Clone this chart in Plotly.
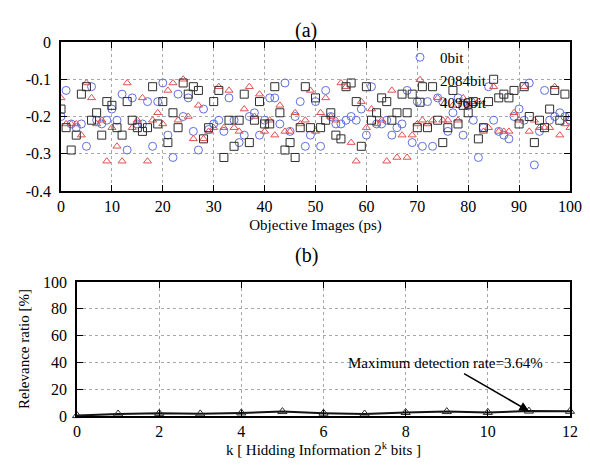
import plotly.graph_objects as go

# ---------------- data: panel (a) ----------------
image_index = list(range(0, 101))

bit0 = [-0.20, -0.13, -0.22, -0.23, -0.22, -0.28, -0.12, -0.21, -0.22, -0.21,
        -0.18, -0.21, -0.14, -0.29, -0.15, -0.22, -0.22, -0.16, -0.28, -0.16,
        -0.11, -0.25, -0.31, -0.14, -0.20, -0.15, -0.24, -0.29, -0.18, -0.235,
        -0.22, -0.21, -0.24, -0.15, -0.21, -0.27, -0.25, -0.20, -0.19, -0.25,
        -0.21, -0.15, -0.15, -0.22, -0.11, -0.24, -0.20, -0.16, -0.28, -0.25,
        -0.16, -0.28, -0.13, -0.20, -0.22, -0.22, -0.21, -0.20, -0.21, -0.18,
        -0.25, -0.12, -0.22, -0.22, -0.21, -0.25, -0.23, -0.22, -0.13, -0.27,
        -0.16, -0.28, -0.16, -0.28, -0.15, -0.16, -0.24, -0.19, -0.15, -0.25,
        -0.17, -0.21, -0.31, -0.23, -0.12, -0.21, -0.24, -0.25, -0.26, -0.20,
        -0.18, -0.21, -0.11, -0.33, -0.24, -0.13, -0.21, -0.20, -0.19, -0.20,
        -0.21]

bit2084 = [-0.15, -0.22, -0.22, -0.22, -0.25, -0.11, -0.15, -0.22, -0.21, -0.32,
           -0.23, -0.28, -0.32, -0.11, -0.23, -0.21, -0.15, -0.32, -0.21, -0.19,
           -0.22, -0.13, -0.11, -0.21, -0.10, -0.20, -0.26, -0.17, -0.26, -0.24,
           -0.23, -0.12, -0.23, -0.13, -0.23, -0.24, -0.18, -0.12, -0.20, -0.14,
           -0.24, -0.21, -0.25, -0.17, -0.24, -0.24, -0.19, -0.22, -0.21, -0.13,
           -0.24, -0.19, -0.15, -0.20, -0.21, -0.11, -0.12, -0.27, -0.32, -0.16,
           -0.23, -0.18, -0.22, -0.21, -0.32, -0.13, -0.31, -0.25, -0.31, -0.25,
           -0.22, -0.21, -0.22, -0.21, -0.15, -0.21, -0.21, -0.17, -0.21, -0.15,
           -0.17, -0.16, -0.16, -0.24, -0.23, -0.12, -0.24, -0.24, -0.24, -0.19,
           -0.21, -0.12, -0.24, -0.21, -0.23, -0.23, -0.23, -0.12, -0.25, -0.22,
           -0.23]

bit4096 = [-0.18, -0.23, -0.29, -0.25, -0.14, -0.12, -0.21, -0.19, -0.25, -0.16,
           -0.17, -0.23, -0.25, -0.16, -0.21, -0.23, -0.24, -0.23, -0.12, -0.22,
           -0.16, -0.27, -0.19, -0.23, -0.11, -0.14, -0.12, -0.13, -0.26, -0.23,
           -0.16, -0.13, -0.31, -0.21, -0.28, -0.21, -0.14, -0.27, -0.21, -0.16,
           -0.22, -0.22, -0.12, -0.19, -0.29, -0.27, -0.31, -0.23, -0.12, -0.23,
           -0.15, -0.23, -0.21, -0.19, -0.25, -0.26, -0.12, -0.11, -0.16, -0.28,
           -0.12, -0.21, -0.19, -0.15, -0.16, -0.21, -0.19, -0.14, -0.19, -0.14,
           -0.23, -0.12, -0.23, -0.12, -0.21, -0.27, -0.23, -0.13, -0.22, -0.17,
           -0.19, -0.16, -0.26, -0.23, -0.16, -0.10, -0.15, -0.14, -0.15, -0.13,
           -0.22, -0.12, -0.20, -0.27, -0.21, -0.23, -0.18, -0.13, -0.21, -0.14,
           -0.20]

series_names = ["0bit", "2084bit", "4096bit"]
a_ytickvals = [-0.4, -0.3, -0.2, -0.1, 0]
a_yticktext = ["-0.4", "-0.3", "-0.2", "-0.1", "0"]

# ---------------- data: panel (b) ----------------
k_values = list(range(0, 13))
relevance = [0.3, 1.5, 2.0, 1.6, 2.3, 3.3, 2.1, 1.5, 2.6, 3.3, 2.7, 3.64, 3.5]
max_k = 11
max_rate = 3.64

SERIF = "Liberation Serif"
# the page body has an 8px margin: the figure occupies (8, 8) .. (582, 458)
OFF = 8
W, H = 590 - 2 * OFF, 466 - 2 * OFF
RIGHT = 570  # right edge of both plot frames (page px), keeps the last tick label visible

def px_x(p):
    return (p - OFF) / W

def px_y(p):
    return 1 - (p - OFF) / H

fig = go.Figure()

marker_styles = [
    dict(symbol="circle-open", size=8, color="rgb(95,110,225)", line=dict(width=1)),
    dict(symbol="triangle-up-open", size=7, color="rgb(225,80,80)", line=dict(width=1)),
    dict(symbol="square-open", size=8, color="rgb(45,45,45)", line=dict(width=1)),
]
for name, vals, mk in zip(series_names, [bit0, bit2084, bit4096], marker_styles):
    fig.add_trace(go.Scatter(x=image_index, y=vals, mode="markers", name=name,
                             marker=mk, xaxis="x", yaxis="y", cliponaxis=True))

fig.add_trace(go.Scatter(x=k_values, y=relevance, mode="lines+markers",
                         name="Relevance ratio", showlegend=False,
                         line=dict(color="rgb(20,20,20)", width=2),
                         marker=dict(symbol="triangle-up-open", size=8,
                                     color="rgb(40,40,40)", line=dict(width=1)),
                         xaxis="x2", yaxis="y2", cliponaxis=False))

axis_common = dict(showline=True, linecolor="black", linewidth=1.5, mirror="ticks",
                   ticks="inside", ticklen=6, tickwidth=1.2, tickcolor="black",
                   showgrid=True, gridcolor="#a8a8a8", griddash="dot", gridwidth=1,
                   zeroline=False, automargin=False, ticklabeloverflow="allow",
                   tickfont=dict(family=SERIF, size=16, color="black"))

fig.update_layout(
    width=W, height=H,
    margin=dict(l=0, r=0, t=0, b=0, autoexpand=False),
    paper_bgcolor="white", plot_bgcolor="white",
    font=dict(family=SERIF, color="black"),
    xaxis=dict(domain=[px_x(61), px_x(RIGHT)], range=[0, 100], dtick=10, anchor="y",
               title=dict(text="Objective Images (ps)", font=dict(size=15), standoff=6),
               **axis_common),
    yaxis=dict(domain=[px_y(191), px_y(42)], range=[-0.4, 0], anchor="x",
               tickvals=a_ytickvals, ticktext=a_yticktext, ticklabelstandoff=5,
               **axis_common),
    xaxis2=dict(domain=[px_x(77), px_x(RIGHT)], range=[0, 12], dtick=2, anchor="y2",
                title=dict(text="k [ Hidding Information 2<sup>k</sup> bits ]",
                           font=dict(size=15), standoff=4),
                **axis_common),
    yaxis2=dict(domain=[px_y(416), px_y(282)], range=[0, 100], dtick=20, anchor="x2",
                ticklabelstandoff=5,
                title=dict(text="Relevance ratio [%]", font=dict(size=15), standoff=10),
                **axis_common),
    legend=dict(x=px_x(400), y=px_y(41), xanchor="left", yanchor="top",
                bgcolor="rgba(0,0,0,0)", font=dict(family=SERIF, size=15),
                tracegroupgap=0, itemwidth=30),
    showlegend=True,
)

fig.add_annotation(text="(a)", x=px_x(306), y=px_y(17), xref="paper", yref="paper",
                   showarrow=False, font=dict(family=SERIF, size=20))
fig.add_annotation(text="(b)", x=px_x(306), y=px_y(255), xref="paper", yref="paper",
                   showarrow=False, font=dict(family=SERIF, size=20))

fig.add_annotation(text="Maximum detection rate=3.64%", x=max_k, y=max_rate,
                   xref="x2", yref="y2", showarrow=True, ax=-83, ay=-48,
                   arrowhead=2, arrowsize=1.2, arrowwidth=1.6, arrowcolor="black",
                   standoff=0, startstandoff=2,
                   font=dict(family=SERIF, size=15))

fig.write_html("out.html")
